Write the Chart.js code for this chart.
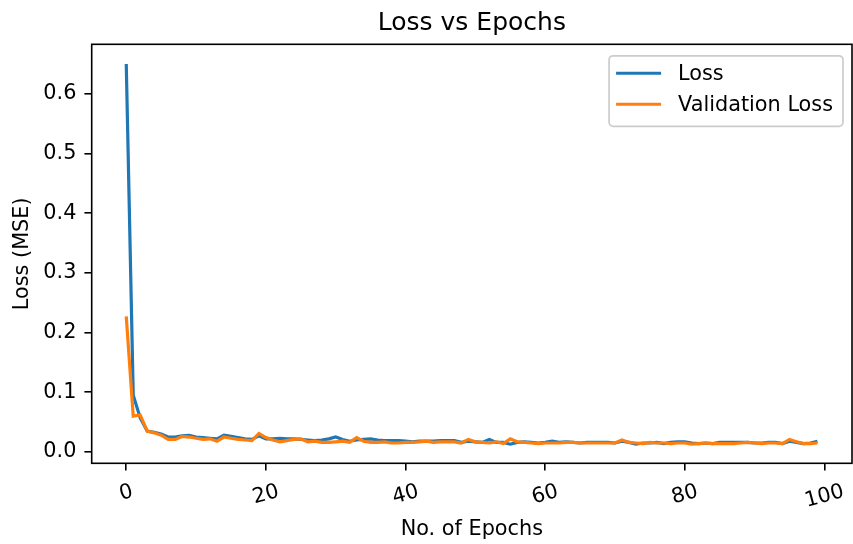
<!DOCTYPE html>
<html>
<head>
<meta charset="utf-8">
<script src="https://cdn.jsdelivr.net/npm/chart.js@4"></script>
<style>
  html, body { margin: 0; padding: 0; background: #fff; }
  canvas { display: block; }
</style>
</head>
<body>
<canvas id="chart" width="853" height="544"></canvas>
<script>
// x positions: one point per epoch
const epochs = Array.from({ length: 100 }, (_, i) => i);

const loss = [
  0.650, 0.095, 0.057, 0.035, 0.033, 0.030, 0.025, 0.025, 0.027, 0.028,
  0.025, 0.024, 0.023, 0.022, 0.028, 0.026, 0.024, 0.022, 0.021, 0.027,
  0.022, 0.022, 0.023, 0.022, 0.022, 0.021, 0.020, 0.019, 0.020, 0.022,
  0.025, 0.021, 0.018, 0.020, 0.021, 0.022, 0.020, 0.019, 0.019, 0.019,
  0.018, 0.017, 0.018, 0.018, 0.018, 0.019, 0.019, 0.019, 0.016, 0.018,
  0.017, 0.016, 0.021, 0.016, 0.016, 0.013, 0.016, 0.017, 0.016, 0.015,
  0.016, 0.018, 0.016, 0.017, 0.016, 0.015, 0.016, 0.016, 0.016, 0.016,
  0.015, 0.018, 0.016, 0.013, 0.015, 0.015, 0.016, 0.014, 0.016, 0.017,
  0.017, 0.015, 0.014, 0.015, 0.014, 0.016, 0.016, 0.016, 0.016, 0.016,
  0.015, 0.015, 0.016, 0.016, 0.014, 0.018, 0.016, 0.014, 0.015, 0.018,
];

const valLoss = [
  0.227, 0.060, 0.062, 0.035, 0.032, 0.028, 0.021, 0.021, 0.026, 0.025,
  0.023, 0.021, 0.022, 0.018, 0.025, 0.023, 0.021, 0.020, 0.019, 0.031,
  0.024, 0.020, 0.017, 0.019, 0.021, 0.022, 0.017, 0.018, 0.016, 0.016,
  0.017, 0.018, 0.016, 0.024, 0.018, 0.016, 0.016, 0.017, 0.015, 0.015,
  0.016, 0.016, 0.017, 0.018, 0.016, 0.017, 0.017, 0.017, 0.015, 0.021,
  0.017, 0.016, 0.015, 0.017, 0.014, 0.022, 0.017, 0.016, 0.015, 0.014,
  0.015, 0.015, 0.015, 0.016, 0.016, 0.015, 0.015, 0.015, 0.015, 0.015,
  0.015, 0.020, 0.016, 0.015, 0.014, 0.016, 0.015, 0.015, 0.014, 0.015,
  0.015, 0.013, 0.014, 0.015, 0.014, 0.014, 0.014, 0.014, 0.015, 0.016,
  0.015, 0.014, 0.015, 0.015, 0.014, 0.021, 0.017, 0.014, 0.014, 0.015,
];

const xTicks = [0, 20, 40, 60, 80, 100];
const xTickLabels = ["0", "20", "40", "60", "80", "100"];
const yTicks = [0, 0.1, 0.2, 0.3, 0.4, 0.5, 0.6];
const yTickLabels = ["0.0", "0.1", "0.2", "0.3", "0.4", "0.5", "0.6"];
const chartTitle = "Loss vs Epochs";

const FONT = "DejaVu Sans";
const FS = 20.8;

Chart.defaults.font.family = FONT;
Chart.defaults.font.size = FS;
Chart.defaults.color = "#000";

// matplotlib-like frame, title over the axes, rotated x tick labels, legend box
const mplExtras = {
  id: "mplExtras",
  afterDraw(chart) {
    const { ctx, chartArea: a } = chart;
    const xScale = chart.scales.x;
    ctx.save();

    ctx.strokeStyle = "#000";
    ctx.lineWidth = 1.6;
    ctx.strokeRect(a.left, a.top, a.right - a.left, a.bottom - a.top);

    // title centred on the plot area, not the canvas
    ctx.fillStyle = "#000";
    ctx.textAlign = "center";
    ctx.textBaseline = "middle";
    ctx.font = `25px "${FONT}"`;
    ctx.fillText(chartTitle, (a.left + a.right) / 2, 23);

    // x tick labels, rotated 15deg around their centre
    ctx.font = `${FS}px "${FONT}"`;
    const rot = (15 * Math.PI) / 180;
    xTicks.forEach((v, i) => {
      const label = xTickLabels[i];
      const w = ctx.measureText(label).width;
      const bh = w * Math.sin(rot) + 20 * Math.cos(rot);
      const px = xScale.getPixelForValue(v);
      const py = a.bottom + 18.5 + bh / 2;
      ctx.save();
      ctx.translate(px, py);
      ctx.rotate(-rot);
      ctx.fillText(label, 0, 0);
      ctx.restore();
    });

    // legend
    const sets = chart.data.datasets;
    const textW = Math.max(...sets.map((d) => ctx.measureText(d.label).width));
    const boxW = 69 + textW + 10;
    const boxH = 70.5;
    const right = a.right - 9;
    const left = right - boxW;
    const top = a.top + 11.5;
    ctx.beginPath();
    ctx.roundRect(left, top, boxW, boxH, 4);
    ctx.fillStyle = "rgba(255,255,255,0.8)";
    ctx.fill();
    ctx.strokeStyle = "#cccccc";
    ctx.lineWidth = 1.7;
    ctx.stroke();
    ctx.textAlign = "left";
    sets.forEach((d, i) => {
      const y = top + 17.5 + i * 31;
      ctx.beginPath();
      ctx.moveTo(left + 7, y);
      ctx.lineTo(left + 52, y);
      ctx.strokeStyle = d.borderColor;
      ctx.lineWidth = 3.1;
      ctx.stroke();
      ctx.fillStyle = "#000";
      ctx.fillText(d.label, left + 69, y + 1);
    });

    ctx.restore();
  },
};

const ctx = document.getElementById("chart").getContext("2d");
new Chart(ctx, {
  type: "line",
  data: {
    labels: epochs,
    datasets: [
      {
        label: "Loss",
        data: loss,
        borderColor: "#1f77b4",
        borderWidth: 3.2,
        pointRadius: 0,
        tension: 0,
        order: 1,
      },
      {
        label: "Validation Loss",
        data: valLoss,
        borderColor: "#ff7f0e",
        borderWidth: 3.2,
        pointRadius: 0,
        tension: 0,
        order: 0,
      },
    ],
  },
  options: {
    responsive: false,
    animation: false,
    devicePixelRatio: 1,
    layout: { padding: { left: 0, right: 1, top: 44.3, bottom: 0 } },
    plugins: {
      legend: { display: false },
      tooltip: { enabled: false },
      title: { display: false },
    },
    scales: {
      x: {
        type: "linear",
        min: -4.95,
        max: 103.95,
        afterBuildTicks: (s) => { s.ticks = xTicks.map((v) => ({ value: v })); },
        afterFit: (s) => { s.height = 80.7; },
        ticks: { display: false },
        grid: {
          drawOnChartArea: false,
          drawTicks: true,
          tickLength: 7.3,
          color: "#000",
          lineWidth: 1.6,
        },
        border: { display: false },
        title: {
          display: true,
          text: "No. of Epochs",
          color: "#000",
          padding: { top: 0, bottom: 1.5 },
        },
      },
      y: {
        type: "linear",
        min: -0.019,
        max: 0.683,
        afterBuildTicks: (s) => { s.ticks = yTicks.map((v) => ({ value: v })); },
        afterFit: (s) => { s.width = 91.7; },
        ticks: {
          padding: 8,
          color: "#000",
          callback: (v, i) => yTickLabels[i],
        },
        grid: {
          drawOnChartArea: false,
          drawTicks: true,
          tickLength: 7.3,
          color: "#000",
          lineWidth: 1.6,
        },
        border: { display: false },
        title: {
          display: true,
          text: "Loss (MSE)",
          color: "#000",
          padding: { top: 10, bottom: 0 },
        },
      },
    },
  },
  plugins: [mplExtras],
});
</script>
</body>
</html>
